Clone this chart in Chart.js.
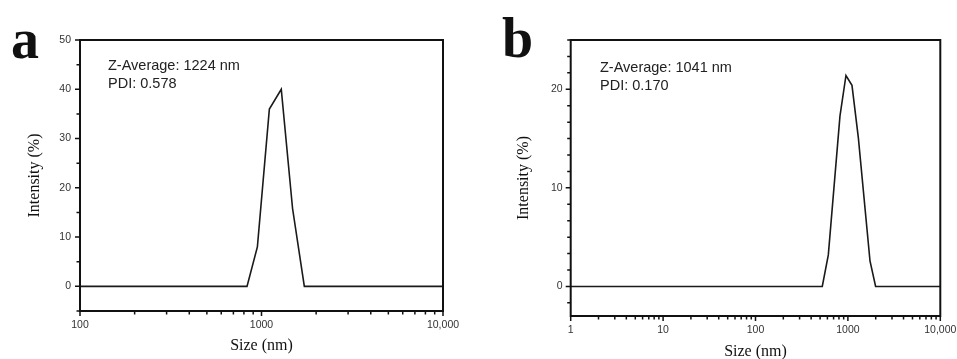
<!DOCTYPE html>
<html><head><meta charset="utf-8">
<script src="https://cdn.jsdelivr.net/npm/chart.js@4"></script>
<style>
html,body{margin:0;padding:0;background:#fff;width:957px;height:359px;overflow:hidden}
body{position:relative}
canvas{position:absolute;top:0}
.letter{position:absolute;font:bold 56px "Liberation Serif","Times New Roman",serif;line-height:56px;color:#111}
.note{position:absolute;font:14.5px "Liberation Sans",Arial,sans-serif;line-height:18px;color:#222;white-space:nowrap}
</style></head><body>
<canvas id="ca" width="480" height="359" style="left:0"></canvas>
<canvas id="cb" width="477" height="359" style="left:480px"></canvas>
<div class="letter" style="left:11px;top:11px">a</div>
<div class="letter" style="left:502px;top:10px">b</div>
<div class="note" style="left:108px;top:56px">Z-Average: 1224 nm<br>PDI: 0.578</div>
<div class="note" style="left:600px;top:57.7px">Z-Average: 1041 nm<br>PDI: 0.170</div>
<script>
// ---- data ----
const sizeA = [100, 832, 949, 1105, 1285, 1483, 1722, 10000];
const intensityA = [0, 0, 8, 36, 40, 15.8, 0, 0];
const sizeB = [1, 528, 614, 821, 953, 1107, 1297, 1734, 1995, 10000];
const intensityB = [0, 0, 3.2, 17.3, 21.4, 20.4, 15.1, 2.6, 0, 0];

// ---- ticks ----
const xMajorA = [100, 1000, 10000];
const xLabelsA = ['100', '1000', '10,000'];
const xMajorB = [1, 10, 100, 1000, 10000];
const xLabelsB = ['1', '10', '100', '1000', '10,000'];
const yMajorA = [0, 10, 20, 30, 40, 50];
const yLabelsA = ['0', '10', '20', '30', '40', '50'];
const yMinorA = [-5, 5, 15, 25, 35, 45];
const yMajorB = [0, 10, 20];
const yLabelsB = ['0', '10', '20'];
const yMinorB = [-1.6667, 1.6667, 3.3333, 5, 6.6667, 8.3333, 11.6667, 13.3333, 15, 16.6667, 18.3333, 21.6667, 23.3333, 25];

function logTicks(majors) {
  const out = [];
  majors.forEach((m, i) => {
    out.push({value: m, isMajor: true});
    if (i < majors.length - 1) for (let k = 2; k <= 9; k++) out.push({value: m * k, isMajor: false});
  });
  return out;
}
function linTicks(majors, minors) {
  return majors.map(v => ({value: v, isMajor: true}))
    .concat(minors.map(v => ({value: v, isMajor: false})))
    .sort((a, b) => a.value - b.value);
}
function labelFor(v, majors, labels) {
  const i = majors.findIndex(m => Math.abs(m - v) < 1e-9);
  return i >= 0 ? labels[i] : '';
}

const frameTicks = {
  id: 'frameTicks',
  afterDraw(chart) {
    const {ctx, chartArea: {left, top, right, bottom}} = chart;
    const xs = chart.scales.x, ys = chart.scales.y;
    ctx.save();
    ctx.strokeStyle = '#111';
    ctx.lineWidth = 2;
    ctx.strokeRect(left, top, right - left, bottom - top);
    ctx.lineWidth = 1.5;
    ctx.beginPath();
    xs.ticks.forEach(t => {
      const px = xs.getPixelForValue(t.value);
      const len = t.isMajor ? 5 : 3.5;
      ctx.moveTo(px, bottom); ctx.lineTo(px, bottom + len);
    });
    ys.ticks.forEach(t => {
      const py = ys.getPixelForValue(t.value);
      const len = t.isMajor ? 5 : 3.5;
      ctx.moveTo(left, py); ctx.lineTo(left - len, py);
    });
    ctx.stroke();
    ctx.restore();
  }
};

function makeChart(id, sizes, vals, cfg) {
  return new Chart(document.getElementById(id), {
    type: 'line',
    data: {datasets: [{
      data: sizes.map((s, i) => ({x: s, y: vals[i]})),
      borderColor: '#1a1a1a', borderWidth: 1.6, pointRadius: 0, tension: 0, fill: false
    }]},
    options: {
      responsive: false, animation: false, devicePixelRatio: 1,
      layout: {padding: {left: 0, top: 40, right: cfg.padRight, bottom: 0}},
      plugins: {legend: {display: false}, tooltip: {enabled: false}},
      scales: {
        x: {
          type: 'logarithmic', min: cfg.xMin, max: 10000,
          afterBuildTicks: s => { s.ticks = logTicks(cfg.xMajor); },
          afterFit: s => { s.height = cfg.xHeight; s.paddingLeft = 0; s.paddingRight = 0; },
          grid: {display: false, drawTicks: false}, border: {display: false},
          ticks: {autoSkip: false, maxRotation: 0, padding: cfg.xLabelPad, color: '#333',
            font: {family: 'Liberation Sans', size: 10.5},
            callback: v => labelFor(v, cfg.xMajor, cfg.xLabels)},
          title: {display: true, text: 'Size (nm)', color: '#111',
            font: {family: 'Liberation Serif', size: 16}, padding: {top: 0, bottom: cfg.xTitlePad}}
        },
        y: {
          type: 'linear', min: cfg.yMin, max: cfg.yMax,
          afterBuildTicks: s => { s.ticks = linTicks(cfg.yMajor, cfg.yMinor); },
          afterFit: s => { s.width = cfg.yWidth; s.paddingTop = 0; s.paddingBottom = 0; },
          grid: {display: false, drawTicks: false}, border: {display: false},
          ticks: {autoSkip: false, padding: cfg.yLabelPad, color: '#333',
            font: {family: 'Liberation Sans', size: 10.5},
            callback: v => labelFor(v, cfg.yMajor, cfg.yLabels)},
          title: {display: true, text: 'Intensity (%)', color: '#111',
            font: {family: 'Liberation Serif', size: 16}, padding: {top: cfg.yTitlePad, bottom: 0}}
        }
      }
    },
    plugins: [frameTicks]
  });
}

makeChart('ca', sizeA, intensityA, {
  padRight: 37, xMin: 100, xMajor: xMajorA, xLabels: xLabelsA, xHeight: 48, xLabelPad: 7.5, xTitlePad: 3.2,
  yMin: -5, yMax: 50, yMajor: yMajorA, yLabels: yLabelsA, yMinor: yMinorA, yWidth: 80, yLabelPad: 9, yTitlePad: 25
});
makeChart('cb', sizeB, intensityB, {
  padRight: 16.7, xMin: 1, xMajor: xMajorB, xLabels: xLabelsB, xHeight: 43, xLabelPad: 8, xTitlePad: -2.6,
  yMin: -3, yMax: 25, yMajor: yMajorB, yLabels: yLabelsB, yMinor: yMinorB, yWidth: 90.7, yLabelPad: 8, yTitlePad: 34.4
});
</script>
</body></html>
